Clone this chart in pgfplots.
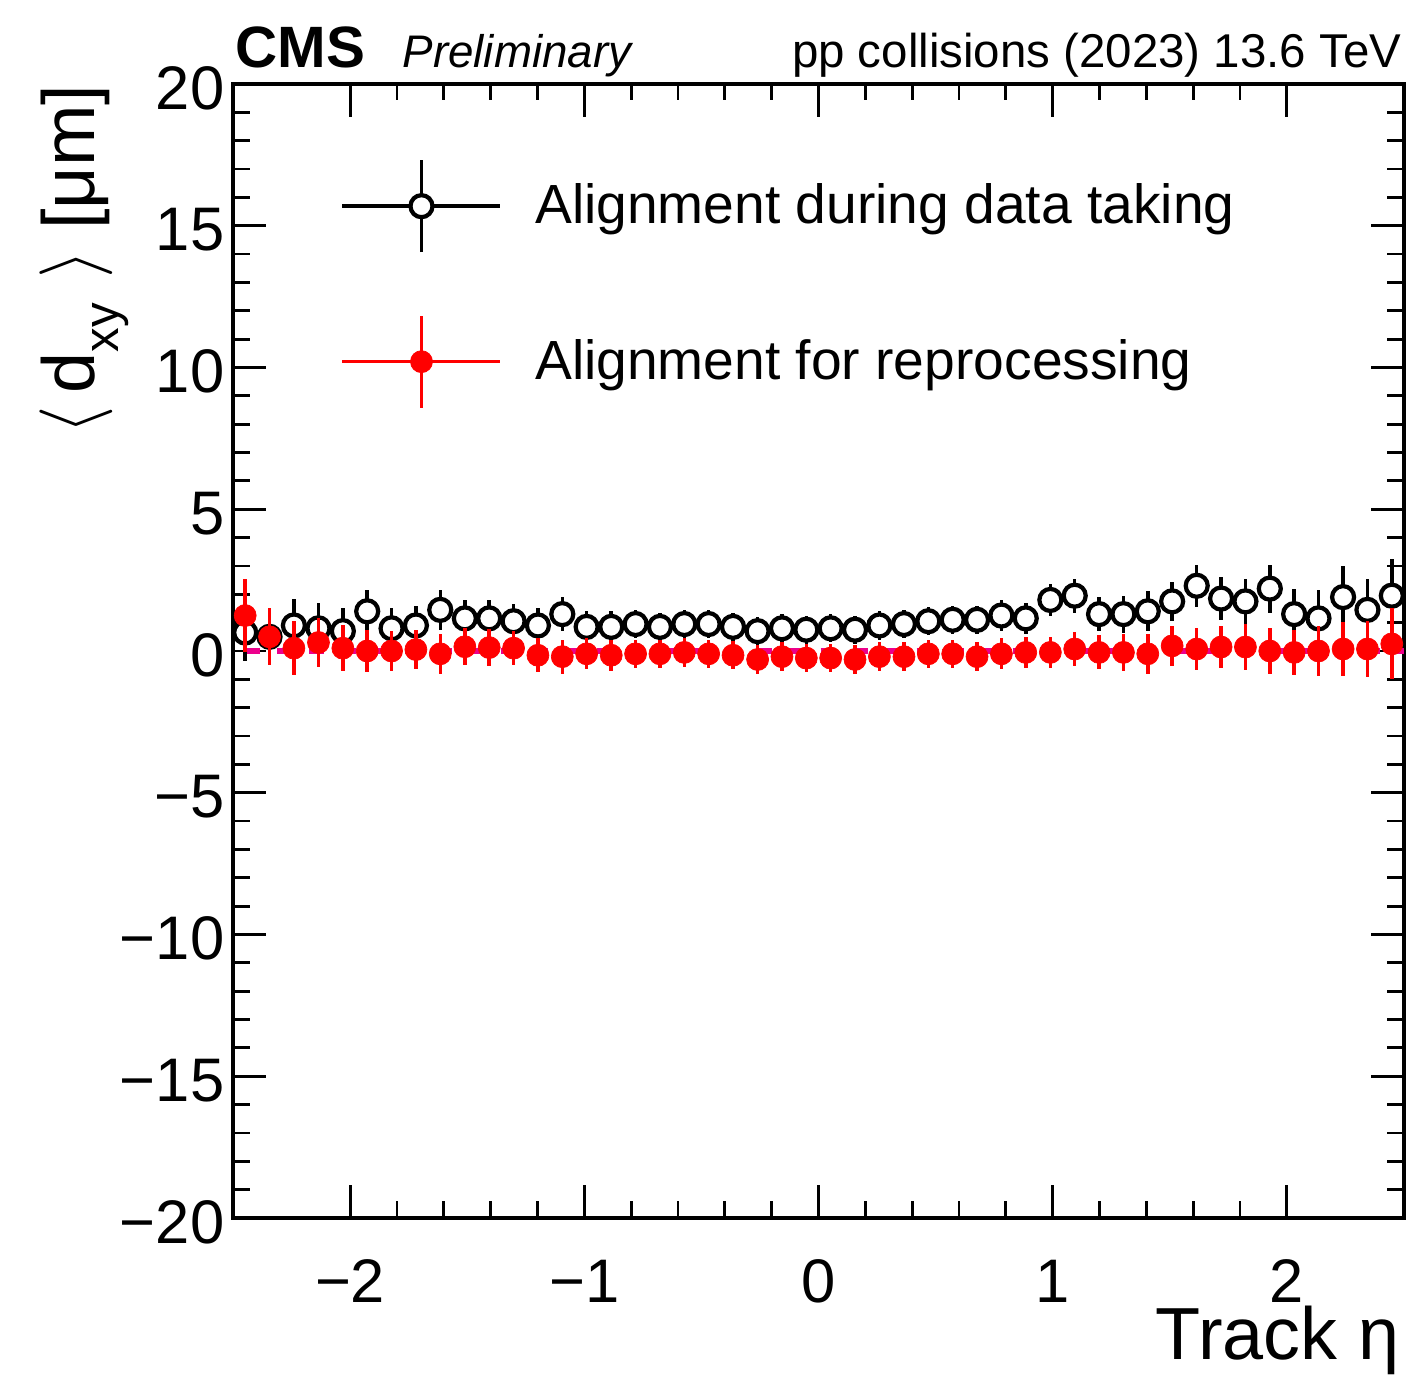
\documentclass[border=0pt]{standalone}
\usepackage{fontspec}
\setmainfont{Liberation Sans}
\usepackage{pgfplots}
\usepackage{pgfplotstable}
\pgfplotsset{compat=1.18}

% <d_xy> per track eta bin: alignment used during data taking
\pgfplotstableread{
x       y     ey
-2.448  0.65  1.00
-2.344  0.50  0.90
-2.240  0.90  0.95
-2.135  0.80  0.90
-2.031  0.70  0.80
-1.927  1.40  0.75
-1.823  0.80  0.70
-1.719  0.90  0.70
-1.615  1.45  0.70
-1.510  1.15  0.65
-1.406  1.15  0.65
-1.302  1.05  0.60
-1.198  0.90  0.60
-1.094  1.30  0.60
-0.990  0.85  0.55
-0.885  0.85  0.55
-0.781  0.95  0.50
-0.677  0.85  0.50
-0.573  0.95  0.50
-0.469  0.95  0.50
-0.365  0.85  0.50
-0.260  0.70  0.50
-0.156  0.80  0.50
-0.052  0.75  0.50
 0.052  0.80  0.50
 0.156  0.75  0.50
 0.260  0.90  0.50
 0.365  0.95  0.50
 0.469  1.05  0.50
 0.573  1.10  0.50
 0.677  1.10  0.50
 0.781  1.25  0.55
 0.885  1.15  0.55
 0.990  1.80  0.55
 1.094  1.95  0.60
 1.198  1.30  0.60
 1.302  1.30  0.65
 1.406  1.40  0.70
 1.510  1.75  0.70
 1.615  2.30  0.75
 1.719  1.85  0.75
 1.823  1.75  0.80
 1.927  2.20  0.85
 2.031  1.30  0.90
 2.135  1.15  1.00
 2.240  1.90  1.10
 2.344  1.45  1.10
 2.448  1.95  1.30
}\online

% same, alignment for reprocessing
\pgfplotstableread{
x       y      ey
-2.448  1.25  1.30
-2.344  0.50  1.00
-2.240  0.10  0.95
-2.135  0.30  0.85
-2.031  0.10  0.80
-1.927  0.00  0.75
-1.823  0.00  0.70
-1.719  0.05  0.70
-1.615 -0.10  0.70
-1.510  0.15  0.65
-1.406  0.12  0.65
-1.302  0.10  0.60
-1.198 -0.15  0.60
-1.094 -0.20  0.60
-0.990 -0.10  0.55
-0.885 -0.15  0.55
-0.781 -0.10  0.50
-0.677 -0.10  0.50
-0.573 -0.05  0.50
-0.469 -0.10  0.50
-0.365 -0.15  0.50
-0.260 -0.30  0.50
-0.156 -0.20  0.50
-0.052 -0.25  0.50
 0.052 -0.25  0.50
 0.156 -0.30  0.50
 0.260 -0.20  0.50
 0.365 -0.20  0.50
 0.469 -0.10  0.50
 0.573 -0.10  0.50
 0.677 -0.20  0.50
 0.781 -0.10  0.55
 0.885 -0.05  0.55
 0.990 -0.05  0.55
 1.094  0.07  0.60
 1.198 -0.05  0.60
 1.302 -0.05  0.65
 1.406 -0.10  0.70
 1.510  0.18  0.70
 1.615  0.07  0.75
 1.719  0.14  0.75
 1.823  0.14  0.80
 1.927  0.00  0.80
 2.031 -0.05  0.80
 2.135  0.00  0.88
 2.240  0.07  0.95
 2.344  0.07  1.00
 2.448  0.25  1.25
}\reproc

\pgfplotsset{
  errleg/.style={legend image code/.code={
    \draw[##1, line width=1pt] (0cm,0cm) -- (1.58cm,0cm);
    \draw[##1, line width=1pt] (0.79cm,-0.46cm) -- (0.79cm,0.46cm);
    \draw[##1] plot coordinates {(0.79cm,0cm)};
  }},
}

\begin{document}
\begin{tikzpicture}
\path[use as bounding box] (0,0) rectangle (14.09cm,13.75cm);
\begin{axis}[
  at={(2.33cm,1.57cm)}, anchor=south west,
  scale only axis, width=11.71cm, height=11.34cm,
  clip mode=individual,
  xmin=-2.5, xmax=2.5, ymin=-20, ymax=20,
  xtick={-2,-1,0,1,2}, xticklabels={−2,−1,0,1,2},
  ytick={-20,-15,-10,-5,0,5,10,15,20},
  yticklabels={−20,−15,−10,−5,0,5,10,15,20},
  minor x tick num=4, minor y tick num=4,
  xtick pos=both, ytick pos=both,
  xticklabel pos=lower, yticklabel pos=left,
  tick align=inside,
  major tick length=3.3mm, minor tick length=1.65mm,
  axis line style={line width=1pt},
  every tick/.style={black, line width=0.8pt},
  tick label style={font=\fontsize{17.5}{20}\selectfont},
  xticklabel style={anchor=base, yshift=-8.5mm, inner sep=0pt},
  yticklabel style={anchor=east, xshift=-0.8mm, yshift=-0.4mm, inner sep=0pt},
  xlabel={Track η},
  every axis x label/.style={at={(axis description cs:0.9966,-0.1245)},
    anchor=base east, inner sep=0pt, font=\fontsize{21}{24}\selectfont},
  ylabel={$\langle$\,d\raisebox{-0.32em}{\fontsize{14}{14}\selectfont xy}\,\,$\rangle$ [μm]},
  every axis y label/.style={at={(axis description cs:-0.118,1)},
    rotate=90, anchor=base east, inner sep=0pt, font=\fontsize{21}{24}\selectfont},
  legend style={at={(axis description cs:0.0914,0.935)}, anchor=north west,
    draw=none, fill=none, inner sep=0pt, row sep=6.0mm,
    font=\fontsize{15.7}{18}\selectfont,
    /tikz/every odd column/.append style={column sep=2.6mm}},
  legend cell align=left,
]
\addplot[magenta, line width=1.8pt, dash pattern=on 1.5mm off 1.7mm, forget plot]
  coordinates {(-2.45,0) (2.5,0)};

\addplot[black, only marks, mark=*, mark size=1.1mm,
  mark options={fill=white, line width=1.2pt}, errleg,
  error bars/.cd, y dir=both, y explicit, error mark=none,
  error bar style={line width=1pt}]
  table[x=x, y=y, y error=ey] {\online};
\addlegendentry{Alignment during data taking}

\addplot[red, only marks, mark=*, mark size=1.1mm,
  mark options={fill=red, line width=0.2pt}, errleg,
  error bars/.cd, y dir=both, y explicit, error mark=none,
  error bar style={line width=1pt}]
  table[x=x, y=y, y error=ey] {\reproc};
\addlegendentry{Alignment for reprocessing}

\node[anchor=base west, inner sep=0pt, font=\fontsize{16.6}{18}\bfseries]
  at (axis description cs:0.0017,1.0141) {CMS};
\node[anchor=base west, inner sep=0pt, font=\fontsize{13}{15}\itshape]
  at (axis description cs:0.1443,1.0141) {Preliminary};
\node[anchor=base east, inner sep=0pt, font=\fontsize{13.5}{15}\selectfont]
  at (axis description cs:0.9983,1.0141) {pp collisions (2023) 13.6 TeV};
\end{axis}
\end{tikzpicture}
\end{document}
